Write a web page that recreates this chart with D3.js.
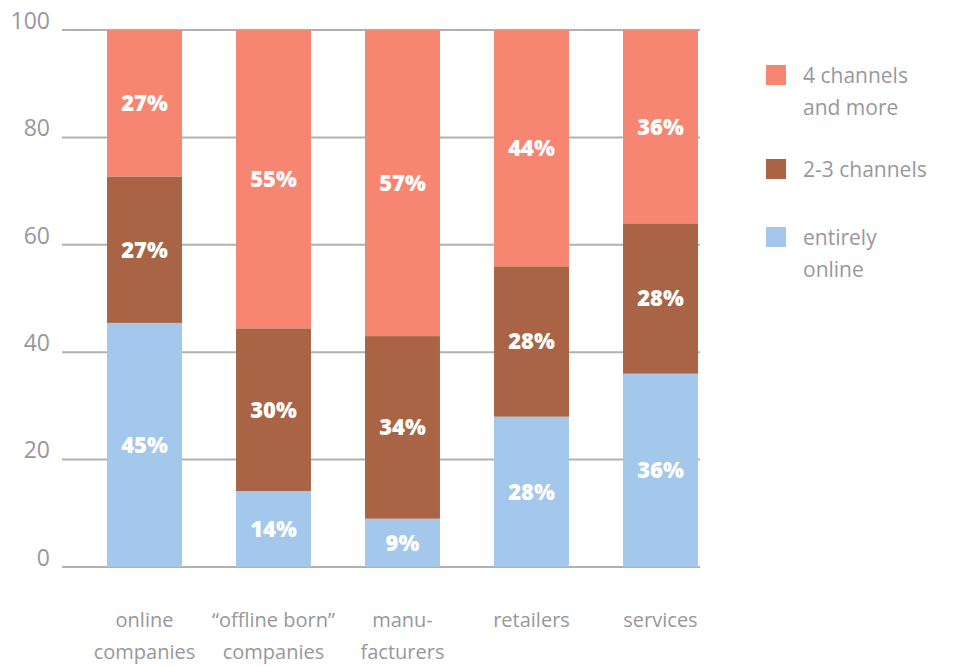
<!DOCTYPE html>
<html>
<head>
<meta charset="utf-8">
<script src="https://cdn.jsdelivr.net/npm/d3@7"></script>
<style>
  html, body { margin: 0; padding: 0; background: #fff; }
  svg { display: block; }
  text { font-family: "Open Sans", Lato, sans-serif; }
</style>
</head>
<body>
<svg id="chart" width="955" height="666"></svg>
<script>
// Company groups (multi-line labels on the x axis)
const categories = [
  ["online", "companies"],
  ["\u201Coffline born\u201D", "companies"],
  ["manu-", "facturers"],
  ["retailers"],
  ["services"]
];

// Share of companies by number of sales channels, in percent
const entirelyOnline = [45, 14, 9, 28, 36];
const twoToThree     = [27, 30, 34, 28, 28];
const fourAndMore    = [27, 55, 57, 44, 36];

const seriesNames = ["entirely online", "2-3 channels", "4 channels and more"];
const legendLabels = [["4 channels", "and more"], ["2-3 channels"], ["entirely", "online"]];
const yTicks = [0, 20, 40, 60, 80, 100];

const colors = {
  "entirely online": "#a3c8eb",
  "2-3 channels": "#a86445",
  "4 channels and more": "#f68571"
};

const rows = categories.map((c, i) => ({
  key: c.join(" "),
  "entirely online": entirelyOnline[i],
  "2-3 channels": twoToThree[i],
  "4 channels and more": fourAndMore[i]
}));

const svg = d3.select("#chart");
const W = 955, H = 666;
const plot = { left: 62, right: 700, top: 30, bottom: 567 };

const x = d3.scaleBand()
  .domain(rows.map(d => d.key))
  .range([plot.left, 743])
  .paddingInner(0.419)
  .paddingOuter(0.349);

// Stacks are normalised so every column fills the full 0-100 range
const y = d3.scaleLinear().domain([0, 100]).range([plot.bottom, plot.top]);

const stack = d3.stack().keys(seriesNames).offset(d3.stackOffsetExpand);
const layers = stack(rows);

// Gridlines
svg.append("g")
  .selectAll("line")
  .data(yTicks)
  .join("line")
  .attr("x1", plot.left)
  .attr("x2", plot.right)
  .attr("y1", d => y(d))
  .attr("y2", d => y(d))
  .attr("stroke", "#b1b1b4")
  .attr("stroke-width", 2);

// Y tick labels
svg.append("g")
  .selectAll("text")
  .data(yTicks)
  .join("text")
  .attr("x", 50)
  .attr("y", d => y(d))
  .attr("dy", "-0.05em")
  .attr("text-anchor", "end")
  .attr("fill", "#98989c")
  .attr("font-size", 23)
  .attr("font-weight", 400)
  .text(d => d);

// Bars
const gLayers = svg.append("g")
  .selectAll("g")
  .data(layers)
  .join("g")
  .attr("fill", d => colors[d.key]);

gLayers.selectAll("rect")
  .data(d => d)
  .join("rect")
  .attr("x", d => x(d.data.key))
  .attr("width", x.bandwidth())
  .attr("y", d => y(d[1] * 100))
  .attr("height", d => y(d[0] * 100) - y(d[1] * 100));

// Value labels inside each segment
layers.forEach(layer => {
  svg.append("g")
    .selectAll("text")
    .data(layer)
    .join("text")
    .attr("x", d => x(d.data.key) + x.bandwidth() / 2)
    .attr("y", d => (y(d[0] * 100) + y(d[1] * 100)) / 2)
    .attr("dy", "0.36em")
    .attr("text-anchor", "middle")
    .attr("fill", "#ffffff")
    .attr("font-size", 22)
    .attr("font-weight", 800)
    .text(d => d.data[layer.key] + "%");
});

// X category labels
const xl = svg.append("g")
  .selectAll("text")
  .data(categories)
  .join("text")
  .attr("x", (d, i) => x(rows[i].key) + x.bandwidth() / 2)
  .attr("y", 627)
  .attr("text-anchor", "middle")
  .attr("fill", "#98989c")
  .attr("font-size", 20)
  .attr("font-weight", 400);
xl.selectAll("tspan")
  .data(d => d)
  .join("tspan")
  .attr("x", function () { return this.parentNode.getAttribute("x"); })
  .attr("dy", (d, i) => i === 0 ? 0 : 32)
  .text(d => d);

// Legend
const legendKeys = ["4 channels and more", "2-3 channels", "entirely online"];
const legendY = [65, 159, 227];
const lg = svg.append("g")
  .selectAll("g")
  .data(legendKeys)
  .join("g")
  .attr("transform", (d, i) => `translate(766,${legendY[i]})`);
lg.append("rect")
  .attr("width", 20)
  .attr("height", 20)
  .attr("fill", d => colors[d]);
const lt = lg.append("text")
  .attr("x", 37)
  .attr("y", 18)
  .attr("fill", "#98989c")
  .attr("font-size", 21)
  .attr("font-weight", 400);
lt.selectAll("tspan")
  .data((d, i) => legendLabels[i])
  .join("tspan")
  .attr("x", 37)
  .attr("dy", (d, i) => i === 0 ? 0 : 32)
  .text(d => d);
</script>
</body>
</html>
